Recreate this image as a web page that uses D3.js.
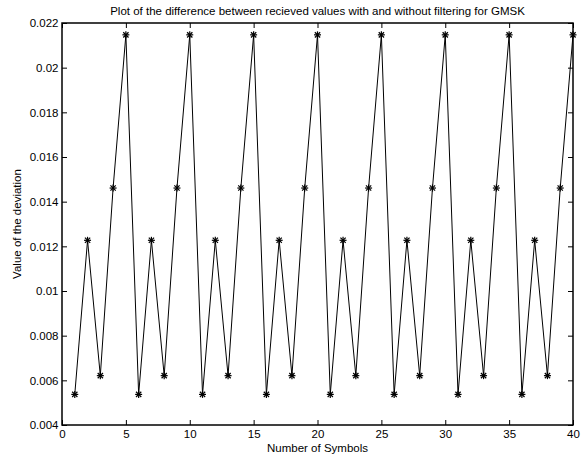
<!DOCTYPE html>
<html><head><meta charset="utf-8">
<script src="https://cdn.jsdelivr.net/npm/d3@7"></script>
<style>body{margin:0;background:#fff}svg{display:block}text{font-family:"Liberation Sans",Arial,sans-serif;fill:#000}</style>
</head><body><svg id="c" width="585" height="459"></svg>
<script>
const symbols = [1,2,3,4,5,6,7,8,9,10,11,12,13,14,15,16,17,18,19,20,21,22,23,24,25,26,27,28,29,30,31,32,33,34,35,36,37,38,39,40];
const deviation = [
 0.00537,0.01227,0.00621,0.01461,0.02147,
 0.00537,0.01227,0.00621,0.01461,0.02147,
 0.00537,0.01227,0.00621,0.01461,0.02147,
 0.00537,0.01227,0.00621,0.01461,0.02147,
 0.00537,0.01227,0.00621,0.01461,0.02147,
 0.00537,0.01227,0.00621,0.01461,0.02147,
 0.00537,0.01227,0.00621,0.01461,0.02147,
 0.00537,0.01227,0.00621,0.01461,0.02147];
const xTicks = [0,5,10,15,20,25,30,35,40];
const yTicks = [0.004,0.006,0.008,0.01,0.012,0.014,0.016,0.018,0.02,0.022];
const yTickLabels = ["0.004","0.006","0.008","0.01","0.012","0.014","0.016","0.018","0.02","0.022"];
const title = "Plot of the difference between recieved values with and without filtering for GMSK";
const xLabel = "Number of Symbols";
const yLabel = "Value of the deviation";

const L=62,R=573,T=23,B=425;
const fs=11.5;
const svg=d3.select("#c");
const x=d3.scaleLinear().domain([0,40]).range([L,R]);
const y=d3.scaleLinear().domain([0.004,0.022]).range([B,T]);
const tl=5;
svg.append("g").attr("transform",`translate(0,${B})`)
 .call(d3.axisBottom(x).tickValues(xTicks).tickSizeInner(-tl).tickSizeOuter(0).tickPadding(5).tickFormat(d3.format("d")))
 .call(g=>{g.select(".domain").remove();g.selectAll("text").attr("font-size",fs).attr("font-family","Liberation Sans, Arial");});
svg.append("g").attr("transform",`translate(0,${T})`)
 .call(d3.axisTop(x).tickValues(xTicks).tickSizeInner(-tl).tickSizeOuter(0).tickFormat(""))
 .call(g=>g.select(".domain").remove());
svg.append("g").attr("transform",`translate(${L},0)`)
 .call(d3.axisLeft(y).tickValues(yTicks).tickSizeInner(-tl).tickSizeOuter(0).tickPadding(3.5).tickFormat((d,i)=>yTickLabels[i]))
 .call(g=>{g.select(".domain").remove();g.selectAll("text").attr("font-size",fs).attr("font-family","Liberation Sans, Arial");});
svg.append("g").attr("transform",`translate(${R},0)`)
 .call(d3.axisRight(y).tickValues(yTicks).tickSizeInner(-tl).tickSizeOuter(0).tickFormat(""))
 .call(g=>g.select(".domain").remove());
svg.selectAll(".tick line").attr("stroke","#000").attr("stroke-width",1);
svg.append("rect").attr("x",L).attr("y",T).attr("width",R-L).attr("height",B-T)
 .attr("fill","none").attr("stroke","#000").attr("stroke-width",1.5);

const data=symbols.map((s,i)=>({s,v:deviation[i]}));
svg.append("path").datum(data).attr("fill","none").attr("stroke","#000").attr("stroke-width",1)
 .attr("d",d3.line().x(d=>x(d.s)).y(d=>y(d.v)));
const m=svg.append("g").attr("stroke","#000").attr("stroke-width",1.2);
const r=3.5;
data.forEach(d=>{
 const cx=x(d.s),cy=y(d.v);
 m.append("line").attr("x1",cx-r).attr("x2",cx+r).attr("y1",cy).attr("y2",cy);
 m.append("line").attr("x1",cx).attr("x2",cx).attr("y1",cy-r).attr("y2",cy+r);
 m.append("line").attr("x1",cx-r*0.75).attr("x2",cx+r*0.75).attr("y1",cy-r*0.75).attr("y2",cy+r*0.75);
 m.append("line").attr("x1",cx-r*0.75).attr("x2",cx+r*0.75).attr("y1",cy+r*0.75).attr("y2",cy-r*0.75);
});
svg.append("text").attr("x",(L+R)/2).attr("y",15).attr("text-anchor","middle").attr("font-size",fs).text(title);
svg.append("text").attr("x",(L+R)/2).attr("y",452).attr("text-anchor","middle").attr("font-size",fs).text(xLabel);
svg.append("text").attr("transform",`translate(21,${(T+B)/2}) rotate(-90)`).attr("text-anchor","middle").attr("font-size",fs).text(yLabel);
</script></body></html>
